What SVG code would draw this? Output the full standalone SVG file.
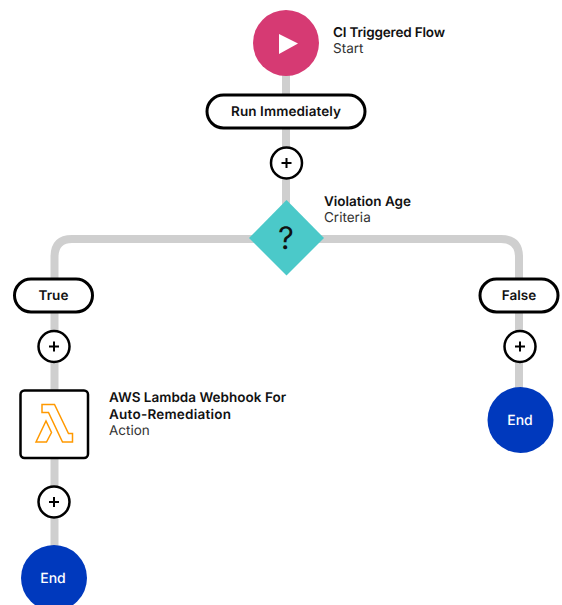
<svg xmlns="http://www.w3.org/2000/svg" width="562" height="605" viewBox="0 0 562 605">
<style>
text{font-family:"Inter","Liberation Sans",sans-serif;fill:#111;text-rendering:geometricPrecision}
.b{font-weight:600;font-size:13.500px}
.s{font-weight:400;font-size:13.500px;fill:#333}
.c{text-anchor:middle}
.pill{fill:#fff;stroke:#000;stroke-width:3}
.line{fill:none;stroke:#cfcfcf;stroke-width:8}
.plus{stroke:#000;stroke-width:2;fill:none}
.end{fill:#0039bd}
</style>
<defs>
<g id="plusbtn"><circle r="15.500" fill="#fff" stroke="#000" stroke-width="2.500"/><path class="plus" d="M-5 0H5M0-5V5"/></g>
</defs>
<g id="connectors">
<path class="line" d="M286 60V238"/>
<path class="line" d="M286 239H72Q54.500 239 54.500 257V560"/>
<path class="line" d="M286 239H501Q519 239 519 257V400"/>
</g>
<g id="start"><circle cx="286" cy="43" r="33" fill="#d63a73"/><path d="M279 34L298 43.500L279 54Z" fill="#fff"/>
<text class="b" x="333" y="37" textLength="112">CI Triggered Flow</text><text class="s" x="333" y="53">Start</text></g>
<g id="run"><rect class="pill" x="207" y="95" width="158" height="33" rx="16.500"/><text class="b c" x="286" y="116" textLength="110">Run Immediately</text></g>
<g id="add1"><use href="#plusbtn" x="286.500" y="163"/></g>
<g id="criteria"><path d="M286.500 200L324 238L286.500 275.500L249 238Z" fill="#4bc9c9"/><text x="286" y="249" class="c" style="font-size:31px;font-weight:400">?</text>
<text class="b" x="324" y="206" textLength="87">Violation Age</text><text class="s" x="324" y="222">Criteria</text></g>
<g id="true"><rect class="pill" x="14.500" y="279" width="78" height="33" rx="16.500"/><text class="b c" x="53.500" y="300">True</text></g>
<g id="false"><rect class="pill" x="480" y="279" width="78" height="33" rx="16.500"/><text class="b c" x="519" y="300">False</text></g>
<g id="add2"><use href="#plusbtn" x="54" y="346.500"/></g>
<g id="add3"><use href="#plusbtn" x="520" y="346.500"/></g>
<g id="action"><rect x="20.500" y="390.500" width="67.500" height="67.500" rx="4" fill="#fff" stroke="#000" stroke-width="2.500"/>
<path d="M42 404.500H54.500L68.500 433.500H72.500V442H62.500L48.500 412.500H42ZM36 442L46 421L51.500 432.500L46.500 442Z" fill="none" stroke="#f90" stroke-width="1.500"/>
<text class="b" x="109" y="402" textLength="177">AWS Lambda Webhook For</text><text class="b" x="109" y="418.500" textLength="122">Auto-Remediation</text><text class="s" x="109" y="435">Action</text></g>
<g id="add4"><use href="#plusbtn" x="54" y="502"/></g>
<g id="end1"><circle class="end" cx="54" cy="578" r="33"/><text class="c" x="53" y="582.500" style="fill:#fff;font-size:14px;font-weight:500">End</text></g>
<g id="end2"><circle class="end" cx="520.500" cy="420" r="33"/><text class="c" x="520" y="424.500" style="fill:#fff;font-size:14px;font-weight:500">End</text></g>
</svg>
